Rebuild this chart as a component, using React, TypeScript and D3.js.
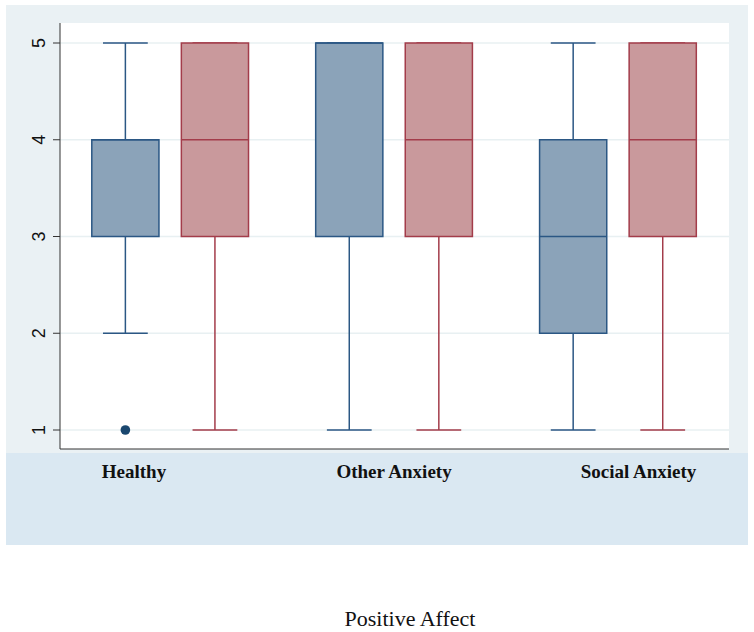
import React from "react";
import * as d3 from "d3";

const categories = ["Healthy", "Other Anxiety", "Social Anxiety"];
const seriesNames = ["Group A", "Group B"];
// [min, q1, median, q3, max] per category, per series
const seriesA = [
  [2, 3, 4, 4, 5],
  [1, 3, 5, 5, 5],
  [1, 2, 3, 4, 5],
];
const seriesB = [
  [1, 3, 4, 5, 5],
  [1, 3, 4, 5, 5],
  [1, 3, 4, 5, 5],
];
const outliersA = [[1], [], []];
const outliersB = [[], [], []];
const yTicks = [1, 2, 3, 4, 5];
const xTitle = "Positive Affect";

const W = 754;
const H = 632;
const plotL = 60, plotR = 729, plotT = 23, plotB = 449;

export default function App() {
  const y = d3.scaleLinear().domain([1, 5]).range([430, 43]);
  const x = d3.scaleLinear().domain([-0.73, 6.74]).range([plotL, plotR]);
  const unit = x(1) - x(0);
  const boxW = unit * 0.75;
  const capW = unit * 0.5;
  const styles = [
    { fill: "#8ba3b9", stroke: "#2b5784", dot: "#1a476f" },
    { fill: "#c9999c", stroke: "#a33c4a", dot: "#90353b" },
  ];
  const series = [seriesA, seriesB];
  const outliers = [outliersA, outliersB];

  const boxes: React.ReactNode[] = [];
  categories.forEach((c, gi) => {
    series.forEach((s, si) => {
      const [mn, q1, med, q3, mx] = s[gi];
      const cx = x(gi * 2.5 + si);
      const st = styles[si];
      boxes.push(
        <g key={`${gi}-${si}`}>
          <line x1={cx} x2={cx} y1={y(q3)} y2={y(mx)} stroke={st.stroke} strokeWidth={1.5} />
          <line x1={cx} x2={cx} y1={y(q1)} y2={y(mn)} stroke={st.stroke} strokeWidth={1.5} />
          <line x1={cx - capW / 2} x2={cx + capW / 2} y1={y(mx)} y2={y(mx)} stroke={st.stroke} strokeWidth={1.5} />
          <line x1={cx - capW / 2} x2={cx + capW / 2} y1={y(mn)} y2={y(mn)} stroke={st.stroke} strokeWidth={1.5} />
          <rect x={cx - boxW / 2} y={y(q3)} width={boxW} height={y(q1) - y(q3)} fill={st.fill} stroke={st.stroke} strokeWidth={1.5} />
          <line x1={cx - boxW / 2} x2={cx + boxW / 2} y1={y(med)} y2={y(med)} stroke={st.stroke} strokeWidth={1.5} />
          {outliers[si][gi].map((v, k) => (
            <circle key={k} cx={cx} cy={y(v)} r={4.8} fill={st.dot} />
          ))}
        </g>
      );
    });
  });

  return (
    <svg width={W} height={H} style={{ position: "absolute", left: 0, top: 0, background: "#ffffff" }}>
      <rect x={6} y={5} width={742} height={448} fill="#eaf1f4" />
      <rect x={6} y={453} width={742} height={92} fill="#dae8f2" />
      <rect x={plotL} y={plotT} width={plotR - plotL} height={plotB - plotT} fill="#ffffff" />
      {yTicks.map((t) => (
        <line key={t} x1={plotL} x2={plotR} y1={y(t)} y2={y(t)} stroke="#e8f0f2" strokeWidth={1.5} />
      ))}
      {boxes}
      <line x1={plotL} x2={plotL} y1={plotT} y2={plotB} stroke="#333" strokeWidth={1} />
      <line x1={plotL} x2={plotR} y1={plotB} y2={plotB} stroke="#333" strokeWidth={1} />
      {yTicks.map((t) => (
        <g key={t}>
          <line x1={plotL - 7} x2={plotL} y1={y(t)} y2={y(t)} stroke="#333" strokeWidth={1} />
          <text
            transform={`translate(45,${y(t)}) rotate(-90)`}
            textAnchor="middle"
            fontFamily="Liberation Sans, Arial, sans-serif"
            fontSize={18}
            fill="#111"
          >
            {t}
          </text>
        </g>
      ))}
      {categories.map((c, gi) => {
        const left = x(gi * 2.5) - boxW / 2;
        const right = x(gi * 2.5 + 1) + boxW / 2;
        const anchor = gi === 0 ? "start" : gi === categories.length - 1 ? "end" : "middle";
        const tx = gi === 0 ? left + 10 : gi === categories.length - 1 ? right : (left + right) / 2;
        return (
          <text key={c} x={tx} y={478} textAnchor={anchor} fontFamily="Liberation Serif, Times New Roman, serif" fontWeight="bold" fontSize={19} fill="#111">
            {c}
          </text>
        );
      })}
      <text x={410} y={626} textAnchor="middle" fontFamily="Liberation Serif, Times New Roman, serif" fontSize={22} fill="#111">
        {xTitle}
      </text>
    </svg>
  );
}
